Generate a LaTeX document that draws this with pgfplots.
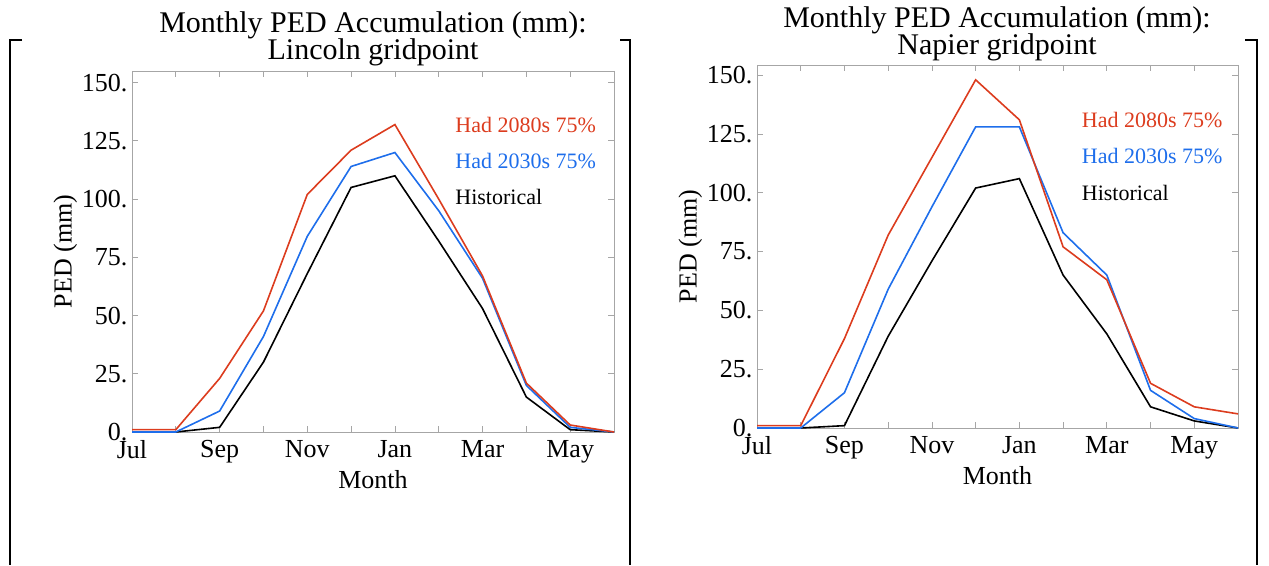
\documentclass[border=0pt]{standalone}
\usepackage{pgfplots}
\pgfplotsset{compat=1.18}
\usepackage{fontspec}
\setmainfont{Liberation Serif}
\definecolor{cred}{RGB}{220,60,30}
\definecolor{cblue}{RGB}{30,110,235}
\pgfplotsset{
 ped/.style={scale only axis, xmin=0, xmax=11, ymin=0,
  xtick={0,...,11}, xticklabels={Jul,,Sep,,Nov,,Jan,,Mar,,May,},
  ytick={0,25,50,75,100,125,150}, yticklabels={0.,25.,50.,75.,100.,125.,150.},
  tick align=inside, major tick length=6pt,
  axis line style={gray!70, line width=0.8pt}, tick style={gray!70, line width=0.8pt},
  ticklabel style={font=\fontsize{26}{28}\selectfont},
  xticklabel style={yshift=-5pt},
  yticklabel style={xshift=-1pt},
  label style={font=\fontsize{26}{28}\selectfont},
  xlabel={Month}, ylabel={PED (mm)},
  xlabel style={yshift=0pt}, ylabel style={yshift=-2pt},
  every axis plot/.append style={line width=1.6pt, no marks},
  clip=false,
 }}
\begin{document}
\begin{tikzpicture}
\useasboundingbox (0pt,0pt) rectangle (1269pt,565pt);
\draw[line width=1.2pt] (22pt,525pt)--(10pt,525pt)--(10pt,0pt);
\draw[line width=1.2pt] (620pt,525pt)--(630pt,525pt)--(630pt,0pt);
\draw[line width=1.2pt] (1245pt,525pt)--(1257pt,525pt)--(1257pt,0pt);
\node[font=\fontsize{30}{30}\selectfont] at (373pt,540pt) {Monthly PED Accumulation (mm):};
\node[font=\fontsize{30}{30}\selectfont] at (373pt,513pt) {Lincoln gridpoint};
\node[font=\fontsize{30}{30}\selectfont] at (997pt,545pt) {Monthly PED Accumulation (mm):};
\node[font=\fontsize{30}{30}\selectfont] at (997pt,518pt) {Napier gridpoint};
\begin{axis}[ped, at={(132pt,133pt)}, anchor=south west, width=482pt, height=361pt, ymax=155]
\addplot[black] coordinates {(0,0)(1,0)(2,2)(3,30)(4,68)(5,105)(6,110)(7,82)(8,53)(9,15)(10,1)(11,0)};
\addplot[cblue] coordinates {(0,0)(1,0)(2,9)(3,41)(4,84)(5,114)(6,120)(7,95)(8,66)(9,20)(10,2)(11,0)};
\addplot[cred] coordinates {(0,1)(1,1)(2,23)(3,52)(4,102)(5,121)(6,132)(7,100)(8,67)(9,21)(10,3)(11,0)};
\node[anchor=west, text=cred, font=\fontsize{22}{24}\selectfont] at (axis cs:7.3,132) {Had 2080s 75\%};
\node[anchor=west, text=cblue, font=\fontsize{22}{24}\selectfont] at (axis cs:7.3,116.5) {Had 2030s 75\%};
\node[anchor=west, text=black, font=\fontsize{22}{24}\selectfont] at (axis cs:7.3,101) {Historical};
\end{axis}
\begin{axis}[ped, at={(757pt,137pt)}, anchor=south west, width=481pt, height=363pt, ymax=154.3]
\addplot[black] coordinates {(0,0)(1,0)(2,1)(3,39)(4,71)(5,102)(6,106)(7,65)(8,40)(9,9)(10,3)(11,0)};
\addplot[cblue] coordinates {(0,0)(1,0)(2,15)(3,59)(4,94)(5,128)(6,128)(7,83)(8,65)(9,16)(10,4)(11,0)};
\addplot[cred] coordinates {(0,1)(1,1)(2,38)(3,82)(4,115)(5,148)(6,131)(7,77)(8,63)(9,19)(10,9)(11,6)};
\node[anchor=west, text=cred, font=\fontsize{22}{24}\selectfont] at (axis cs:7.35,131) {Had 2080s 75\%};
\node[anchor=west, text=cblue, font=\fontsize{22}{24}\selectfont] at (axis cs:7.35,115.5) {Had 2030s 75\%};
\node[anchor=west, text=black, font=\fontsize{22}{24}\selectfont] at (axis cs:7.35,100) {Historical};
\end{axis}
\end{tikzpicture}
\end{document}
